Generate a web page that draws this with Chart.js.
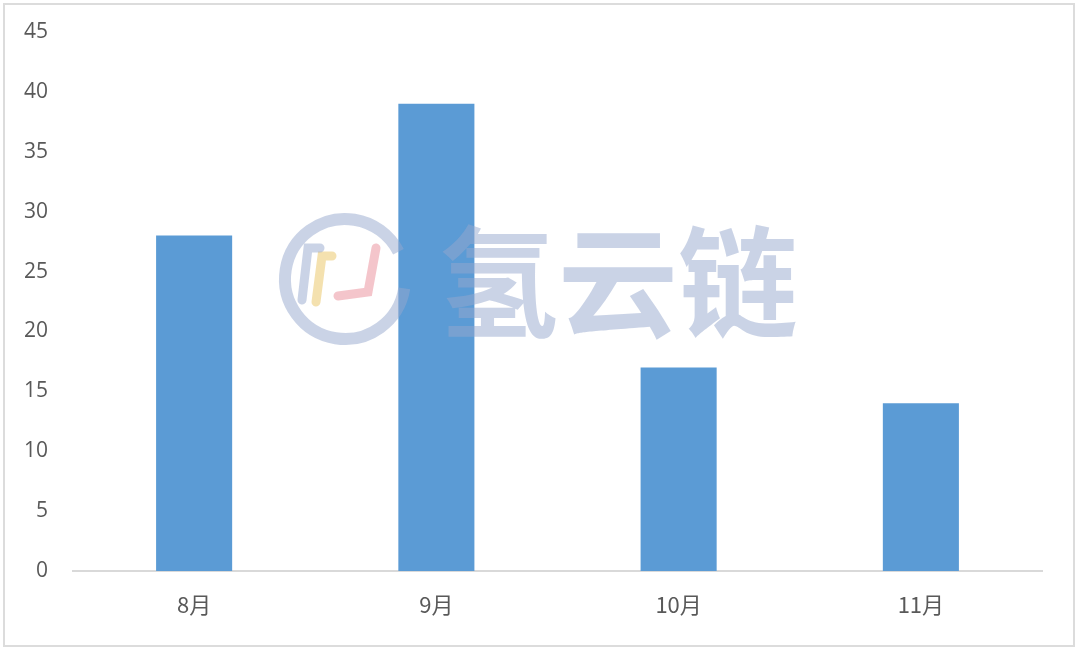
<!DOCTYPE html>
<html>
<head>
<meta charset="utf-8">
<script src="https://cdn.jsdelivr.net/npm/chart.js@4"></script>
<style>
  html, body { margin: 0; padding: 0; background: #fff; }
  #wrap { position: relative; width: 1080px; height: 651px; }
  #frame { position: absolute; left: 3px; top: 3px; width: 1068px; height: 640px; border: 2px solid #dcdcdc; pointer-events: none; }
</style>
</head>
<body>
<div id="wrap">
  <canvas id="barChart" width="1080" height="651"></canvas>
  <div id="frame"></div>
</div>
<script>
"use strict"

// chart data
// -----------------
var months = ['8月', '9月', '10月', '11月'];
var counts = [28, 39, 17, 14];
var yTicks = [0, 5, 10, 15, 20, 25, 30, 35, 40, 45];

// watermark drawn on top of the bars
var watermark = {
    id: 'watermark',
    afterDatasetsDraw: function(chart) {
        var ctx = chart.ctx;
        ctx.save();
        // ring
        ctx.strokeStyle = 'rgba(150,168,205,0.5)';
        ctx.lineWidth = 12;
        ctx.beginPath();
        ctx.arc(345, 279, 60, Math.PI * 0.05, Math.PI * 1.85);
        ctx.stroke();
        // inner strokes
        ctx.lineWidth = 9;
        ctx.lineCap = 'round';
        ctx.strokeStyle = 'rgba(235,200,110,0.55)';
        ctx.beginPath();
        ctx.moveTo(332, 256); ctx.lineTo(322, 256); ctx.lineTo(316, 302);
        ctx.stroke();
        ctx.strokeStyle = 'rgba(235,150,160,0.55)';
        ctx.beginPath();
        ctx.moveTo(376, 248); ctx.lineTo(368, 292); ctx.lineTo(338, 296);
        ctx.stroke();
        ctx.strokeStyle = 'rgba(150,168,205,0.5)';
        ctx.beginPath();
        ctx.moveTo(320, 248); ctx.lineTo(308, 248); ctx.lineTo(302, 300);
        ctx.stroke();
        // name
        ctx.fillStyle = 'rgba(150,168,205,0.5)';
        ctx.font = 'bold 120px "Noto Sans CJK SC"';
        ctx.textBaseline = 'middle';
        ctx.fillText('氢云链', 438, 282);
        ctx.restore();
    }
};

new Chart(document.getElementById('barChart'), {
    type: 'bar',
    data: {
        labels: months,
        datasets: [{
            data: counts,
            backgroundColor: '#5b9bd5',
            borderWidth: 0,
            barPercentage: 0.314,
            categoryPercentage: 1
        }]
    },
    options: {
        responsive: false,
        animation: false,
        layout: { padding: { top: 32, right: 38, bottom: 0, left: 0 } },
        plugins: {
            legend: { display: false },
            tooltip: { enabled: false }
        },
        scales: {
            x: {
                grid: { display: false, drawTicks: false },
                border: { display: true, color: '#d9d9d9', width: 2 },
                ticks: { color: '#595959', font: { size: 22, family: '"Noto Sans CJK SC"' }, padding: 20 },
                afterFit: function(scale) { scale.height = 80; }
            },
            y: {
                min: 0,
                max: 45,
                afterBuildTicks: function(scale) {
                    scale.ticks = yTicks.map(function(v) { return { value: v }; });
                },
                grid: { display: false, drawTicks: false },
                border: { display: false },
                ticks: { color: '#595959', font: { size: 21, family: '"Open Sans"' }, padding: 25 },
                afterFit: function(scale) {
                    scale.width = 73;
                    scale.paddingTop = 0;
                    scale.paddingBottom = 0;
                }
            }
        }
    },
    plugins: [watermark]
});
</script>
</body>
</html>
